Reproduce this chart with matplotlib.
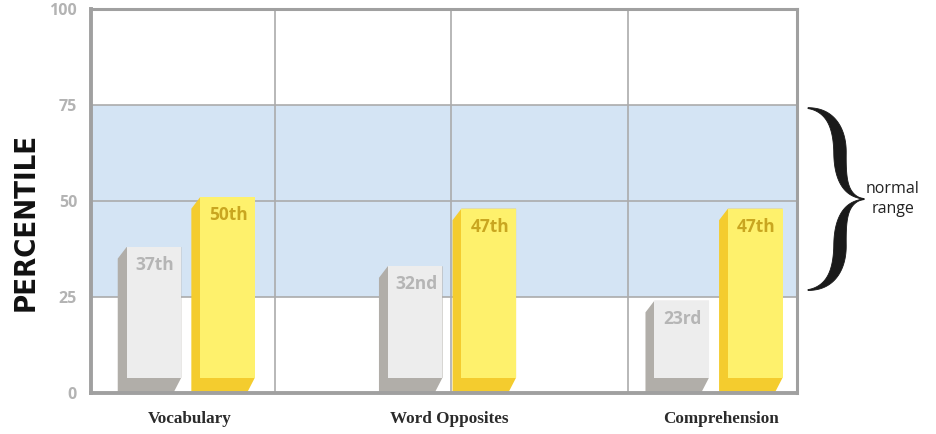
import matplotlib
matplotlib.use("Agg")
import matplotlib.pyplot as plt
import matplotlib.transforms as mtransforms
from matplotlib.patches import Polygon, Rectangle
import numpy as np

# data
CATEGORIES  = ['Vocabulary', 'Word Opposites', 'Comprehension']
PRIOR       = [37, 32, 23]
CURRENT     = [50, 47, 47]
PRIOR_LBL   = ['37th', '32nd', '23rd']
CURRENT_LBL = ['50th', '47th', '47th']
Y_TICKS     = [0, 25, 50, 75, 100]
NORMAL_LOW, NORMAL_HIGH = 25, 75

# style
GRAY_FRONT, GRAY_SIDE, GRAY_TEXT = '#EDEDED', '#B1AEA9', '#B5B5B5'
YEL_FRONT,  YEL_SIDE,  YEL_TEXT  = '#FEF16C', '#F4CC2E', '#C9A620'
BAND   = '#D4E4F4'
FRAME  = '#A0A0A0'
GRID   = '#ABABAB'

GROUP_POS = [0.5, 1.98, 3.49]
LABEL_POS = [0.52, 1.99, 3.53]
BAR_W  = 0.31     # front face width (x units)
GAP    = 0.057
SIDE_X = 0.05     # extrusion depth in x
SIDE_Y = 4.0      # extrusion depth in y (front face sits this high)
CHAMF  = 3.0


def bar3d(ax, x0, value, front, side):
    # x0 = left edge of dark side, front face from x0+SIDE_X to x0+SIDE_X+BAR_W
    xf = x0 + SIDE_X
    x1 = xf + BAR_W
    top = value + 1.0
    side_pts = [(x0, 0), (x0, top - CHAMF), (xf, top), (x1, top),
                (x1, SIDE_Y), (x1 - SIDE_X * 0.9, 0)]
    ax.add_patch(Polygon(side_pts, closed=True, facecolor=side,
                         edgecolor='none', zorder=3))
    ax.add_patch(Rectangle((xf, SIDE_Y), BAR_W, top - SIDE_Y, facecolor=front,
                           edgecolor='none', zorder=4))
    return xf, x1, top


def brace(ax, fig):
    # curly brace beside the normal range; built in pixel units
    px_w = ax.get_position().width * fig.get_size_inches()[0] * fig.dpi
    y0, y1 = ax.get_ylim()
    px_h = ax.get_position().height * fig.get_size_inches()[1] * fig.dpi
    upp = (y1 - y0) / px_h

    def bez(p0, p1, p2, p3, n=40):
        t = np.linspace(0, 1, n)[:, None]
        return ((1 - t) ** 3 * p0 + 3 * (1 - t) ** 2 * t * p1
                + 3 * (1 - t) * t ** 2 * p2 + t ** 3 * p3)

    P = lambda a, b: np.array([a, b], dtype=float)
    half = 91.0
    c1 = bez(P(0, 0), P(22, 2), P(32, 20), P(32, 45))
    c2 = bez(P(32, 45), P(32, 72), P(38, 88), P(56, half))
    up = np.vstack([c1, c2[1:]])
    s = np.linspace(0, 1, len(up))
    w = 1.0 + 11.5 * np.sin(np.pi * np.clip(s * 1.05, 0, 1)) ** 1.3
    d = np.gradient(up, axis=0)
    nrm = np.column_stack([-d[:, 1], d[:, 0]])
    nrm /= np.linalg.norm(nrm, axis=1)[:, None]
    a = up + nrm * w[:, None] / 2
    b = up - nrm * w[:, None] / 2
    upper = np.vstack([a, b[::-1]])
    lower = upper.copy()
    lower[:, 1] = 2 * half - lower[:, 1]

    x_left = 11.0   # px right of the axes frame
    mid = (NORMAL_LOW + NORMAL_HIGH) / 2 + 0.5
    trans = mtransforms.blended_transform_factory(ax.transAxes, ax.transData)
    for shape in (upper, lower):
        xs = 1 + (x_left + shape[:, 0]) / px_w
        ys = mid + (half - shape[:, 1]) * upp
        ax.add_patch(Polygon(np.column_stack([xs, ys]), closed=True,
                             facecolor='#1a1a1a', edgecolor='#1a1a1a', lw=0.6,
                             transform=trans, clip_on=False, zorder=5))
    ax.text(1 + 96 / px_w, mid, 'normal\nrange', transform=trans,
            ha='center', va='center', fontsize=11.5, family='Open Sans',
            color='#222222', linespacing=1.4)


fig = plt.figure(figsize=(9.36, 4.34), dpi=100)
ax = fig.add_axes([91 / 936, 41 / 434, 706 / 936, 384 / 434])
ax.set_xlim(-0.04, 3.96)
ax.set_ylim(0, 100)

ax.axhspan(NORMAL_LOW, NORMAL_HIGH, color=BAND, zorder=0, lw=0)

ax.set_xticks([1, 2, 3], minor=True)
ax.set_yticks(Y_TICKS)
ax.grid(True, which='minor', axis='x', color=GRID, lw=1.2, zorder=1)
ax.grid(True, which='major', axis='y', color=GRID, lw=1.2, zorder=1)

for i, gx in enumerate(GROUP_POS):
    left = gx - GAP / 2 - SIDE_X - BAR_W
    xf, x1, top = bar3d(ax, left, PRIOR[i], GRAY_FRONT, GRAY_SIDE)
    ax.text((xf + x1) / 2 + 0.005, top - 2.4, PRIOR_LBL[i], ha='center', va='top',
            fontsize=12.5, fontweight='bold', family='Open Sans',
            color=GRAY_TEXT, zorder=6)
    xf, x1, top = bar3d(ax, gx + GAP / 2, CURRENT[i], YEL_FRONT, YEL_SIDE)
    ax.text((xf + x1) / 2 + 0.005, top - 2.4, CURRENT_LBL[i], ha='center', va='top',
            fontsize=12.5, fontweight='bold', family='Open Sans',
            color=YEL_TEXT, zorder=6)

ax.set_xticks(LABEL_POS)
ax.set_xticklabels(CATEGORIES, fontsize=12.3, fontweight='bold',
                   family='Liberation Serif', color='#2b2b2b')
ax.set_yticklabels([str(t) for t in Y_TICKS], fontsize=11.5, fontweight='bold',
                   family='Open Sans', color='#B3B3B3')
ax.tick_params(axis='both', which='both', length=0)
ax.tick_params(axis='x', pad=13)
ax.tick_params(axis='y', pad=10)

for side, lw in (('left', 2.8), ('bottom', 2.8), ('top', 2.2), ('right', 2.2)):
    ax.spines[side].set_color(FRAME)
    ax.spines[side].set_linewidth(lw)
    ax.spines[side].set_zorder(7)

ax.text(-0.092, 0.445, 'PERCENTILE', transform=ax.transAxes, rotation=90,
        ha='center', va='center', fontsize=21, fontweight='bold',
        family='DejaVu Sans', fontstretch='condensed', color='#111111')

brace(ax, fig)

fig.savefig('out.png', dpi=100, facecolor='white')
